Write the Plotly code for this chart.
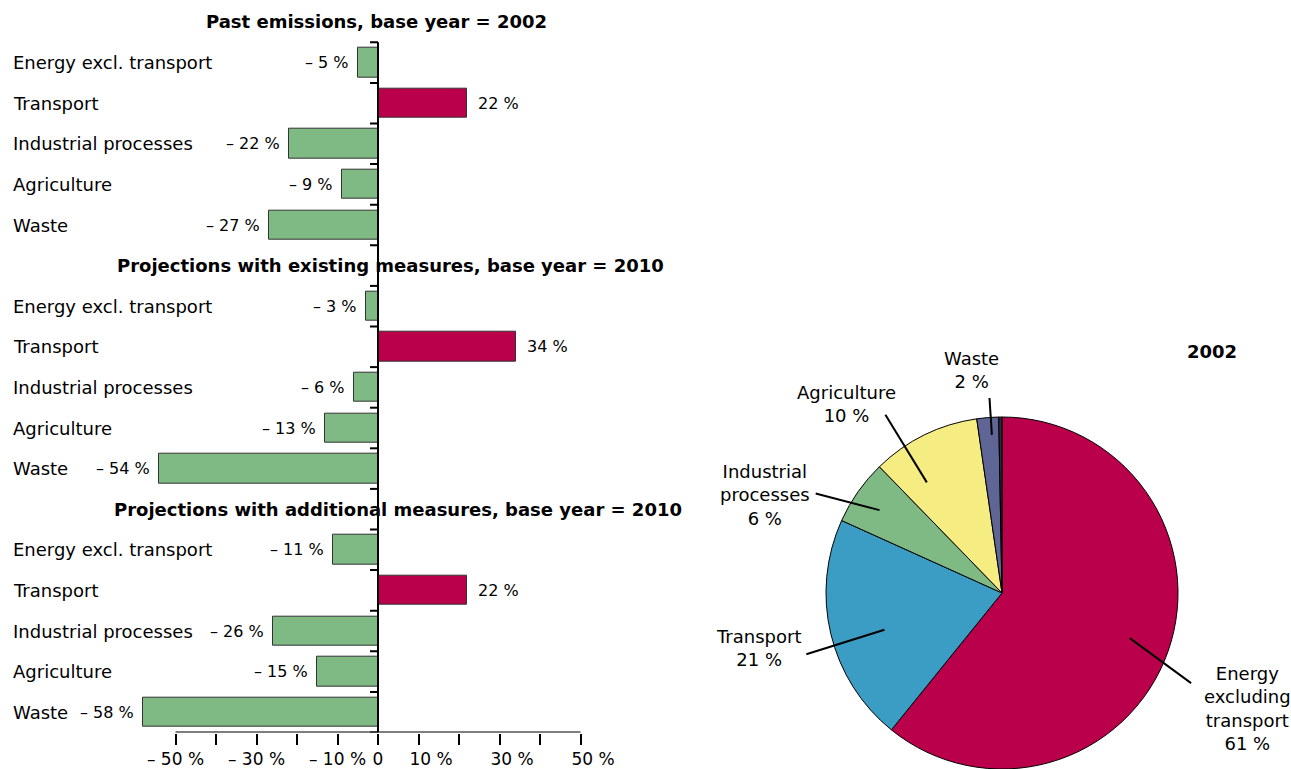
import math
import plotly.graph_objects as go

# ---- change in emissions by sector (%) ----
sectors = ["Energy excl. transport", "Transport", "Industrial processes", "Agriculture", "Waste"]
group_titles = [
    "Past emissions, base year = 2002",
    "Projections with existing measures, base year = 2010",
    "Projections with additional measures, base year = 2010",
]
past_change = [-5, 22, -22, -9, -27]
existing_change = [-3, 34, -6, -13, -54]
additional_change = [-11, 22, -26, -15, -58]
group_values = [past_change, existing_change, additional_change]

# ---- share of emissions by sector in 2002 (%) ----
pie_names = ["Energy excluding transport", "Transport", "Industrial processes",
             "Agriculture", "Waste", "Other"]
pie_label_lines = ["Energy<br>excluding<br>transport", "Transport",
                   "Industrial<br>processes", "Agriculture", "Waste", None]
pie_values = [61, 21, 6, 10, 2, 0.3]
pie_title = "2002"

# ---- x axis ticks ----
PAD = "\u2007\u2007\u2009"
x_tickvals = [-50, -40, -30, -20, -10, 0, 10, 20, 30, 40, 50]
x_ticktext = ["– 50 %", "", "– 30 %", "", "– 10 %", "0",
              PAD + "10 %", "", PAD + "30 %", "", PAD + "50 %"]

# ---- styling / layout ----
W, H = 1291, 769
FONT = "DejaVu Sans"
GREEN = "#7fba84"
RED = "#ba004b"
pie_colors = [RED, "#3c9dc4", GREEN, "#f5ec82", "#5f6594", "#2a2a3a"]

ZERO_PX = 378          # horizontal pixel of 0 %
PX_PER_PCT = 4.05      # pixels per percentage point
PLOT_X_PX = (120, 650)
SLOT0_PX = 22          # centre of first row (a group title)
SLOT_PX = 40.6         # row pitch
N_SLOTS = 18
header_x_pct = [-0.25, 3.2, 4.9]

x_range = [(PLOT_X_PX[0] - ZERO_PX) / PX_PER_PCT, (PLOT_X_PX[1] - ZERO_PX) / PX_PER_PCT]
top_px = SLOT0_PX - SLOT_PX / 2
bot_px = SLOT0_PX + (N_SLOTS - 0.5) * SLOT_PX
y_domain = [1 - bot_px / H, 1 - top_px / H]

# row positions: each group = title row + 5 sector rows
bar_y, bar_x, bar_col, header_rows = [], [], [], []
for g, vals in enumerate(group_values):
    start = g * 6
    header_rows.append(start)
    for i, v in enumerate(vals):
        bar_y.append(start + 1 + i)
        bar_x.append(v)
        bar_col.append(RED if sectors[i] == "Transport" else GREEN)

fig = go.Figure()
fig.add_trace(go.Bar(
    x=bar_x, y=bar_y, orientation="h", width=0.72,
    marker=dict(color=bar_col, line=dict(color="#333333", width=1)),
    hoverinfo="skip", showlegend=False,
))

annotations = []
shapes = []

# group titles
for g, title in enumerate(group_titles):
    annotations.append(dict(
        x=header_x_pct[g], y=header_rows[g], xref="x", yref="y", text="<b>" + title + "</b>",
        showarrow=False, xanchor="center", yanchor="middle",
        font=dict(family=FONT, size=18, color="black"),
    ))

# sector names and value labels
for yv, xv in zip(bar_y, bar_x):
    name = sectors[(yv % 6) - 1]
    annotations.append(dict(
        x=11 / W, y=yv, xref="paper", yref="y", text=name, showarrow=False,
        xanchor="left", yanchor="middle", font=dict(family=FONT, size=18, color="black"),
    ))
    label = f"– {abs(xv)} %" if xv < 0 else f"{xv} %"
    annotations.append(dict(
        x=xv, y=yv, xref="x", yref="y", text=label, showarrow=False,
        xanchor="right" if xv < 0 else "left", xshift=-7 if xv < 0 else 9,
        yanchor="middle", font=dict(family=FONT, size=16, color="black"),
    ))

# vertical zero axis with row ticks
shapes.append(dict(type="line", xref="x", yref="y", x0=0, x1=0, y0=0.5, y1=N_SLOTS - 0.5,
                   line=dict(color="black", width=2)))
for start in header_rows:
    for k in range(6):
        yb = start + 0.5 + k
        shapes.append(dict(type="line", xref="x", yref="y", xsizemode="pixel", xanchor=0,
                           x0=-8, x1=0, y0=yb, y1=yb, line=dict(color="black", width=2)))
# bottom axis line between -50 % and 50 %
shapes.append(dict(type="line", xref="x", yref="y", x0=x_tickvals[0], x1=x_tickvals[-1],
                   y0=N_SLOTS - 0.5, y1=N_SLOTS - 0.5, line=dict(color="black", width=2)))

# ---- pie ----
PIE_CX, PIE_CY_FROM_BOTTOM, PIE_R = 1002, 176, 176
pie_dom_x = [(PIE_CX - PIE_R) / W, (PIE_CX + PIE_R) / W]
pie_dom_y = [(PIE_CY_FROM_BOTTOM - PIE_R) / H, (PIE_CY_FROM_BOTTOM + PIE_R) / H]
fig.add_trace(go.Pie(
    values=pie_values, labels=pie_names, sort=False, direction="clockwise", rotation=0,
    textinfo="none", hoverinfo="label+value",
    marker=dict(colors=pie_colors, line=dict(color="black", width=1)),
    domain=dict(x=pie_dom_x, y=pie_dom_y), showlegend=False,
))

cx = (pie_dom_x[0] + pie_dom_x[1]) / 2 * W
cy = H - (pie_dom_y[0] + pie_dom_y[1]) / 2 * H
R = min((pie_dom_x[1] - pie_dom_x[0]) * W, (pie_dom_y[1] - pie_dom_y[0]) * H) / 2

# leader line geometry: (inner r, outer r, inner angle tweak, outer angle tweak)
leader = [(0.77, 1.19, 0, 6), (0.70, 1.165, -4, -4), (0.84, 1.20, -1, -7),
          (0.76, 1.21, -8, -7), (0.90, 1.11, 1, 1)]
label_offset_px = [(245, 115), (-244, 55), (-237, -98), (-156, -189), (-31, -223)]


def pie_point(theta_deg, r):
    t = math.radians(theta_deg)
    return (cx + r * math.sin(t)) / W, 1 - (cy - r * math.cos(t)) / H


total = sum(pie_values)
cum = 0.0
for i, v in enumerate(pie_values):
    mid = (cum + v / 2) / total * 360
    cum += v
    if pie_label_lines[i] is None:
        continue
    rin, rout, din, dout = leader[i]
    x0, y0 = pie_point(mid + din, rin * R)
    x1, y1 = pie_point(mid + dout, rout * R)
    shapes.append(dict(type="line", xref="paper", yref="paper", x0=x0, y0=y0, x1=x1, y1=y1,
                       line=dict(color="black", width=2)))
    ox, oy = label_offset_px[i]
    annotations.append(dict(
        x=(cx + ox) / W, y=1 - (cy + oy) / H, xref="paper", yref="paper",
        text=f"{pie_label_lines[i]}<br>{v:g} %", showarrow=False, align="center",
        xanchor="center", yanchor="middle", font=dict(family=FONT, size=18, color="black"),
    ))

annotations.append(dict(
    x=1212 / W, y=1 - 351 / H, xref="paper", yref="paper", text="<b>" + pie_title + "</b>",
    showarrow=False, xanchor="center", yanchor="middle",
    font=dict(family=FONT, size=18, color="black"),
))

fig.update_layout(
    width=W, height=H, margin=dict(l=0, r=0, t=0, b=0),
    paper_bgcolor="white", plot_bgcolor="white",
    font=dict(family=FONT, size=18, color="black"),
    xaxis=dict(domain=[PLOT_X_PX[0] / W, PLOT_X_PX[1] / W], range=x_range,
               tickvals=x_tickvals, ticktext=x_ticktext, ticks="outside", ticklen=11,
               tickwidth=2, tickcolor="black", showline=False, showgrid=False,
               zeroline=False, tickangle=0, automargin=False,
               tickfont=dict(family=FONT, size=17, color="black")),
    yaxis=dict(domain=y_domain, range=[N_SLOTS - 0.5, -0.5], visible=False,
               showgrid=False, zeroline=False, automargin=False),
    shapes=shapes, annotations=annotations, bargap=0,
)

fig.write_html("out.html")
